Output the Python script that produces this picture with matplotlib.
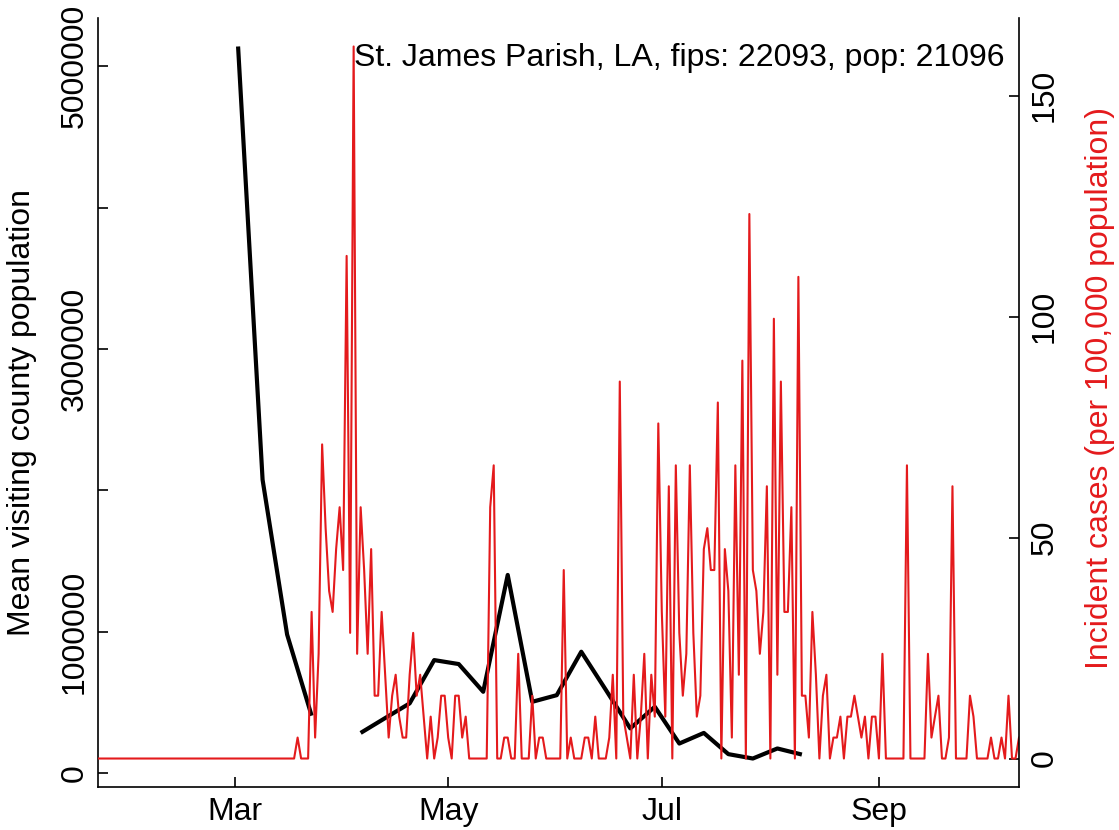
import numpy as np
import pandas as pd
import matplotlib
matplotlib.use("Agg")
import matplotlib.pyplot as plt
import matplotlib.dates as mdates

plt.rcParams['font.family'] = ['Liberation Sans', 'DejaVu Sans']

# county info
county = "St. James Parish, LA"
fips = 22093
pop = 21096

# daily new cases, starting 2020-01-22
case_start = "2020-01-22"
daily_cases = [0] * 57 + [
    1, 0, 0, 0, 7, 1, 5, 15, 11, 8,
    7, 10, 12, 9, 24, 6, 34, 5, 12, 9,
    5, 10, 3, 3, 7, 4, 1, 3, 4, 2,
    1, 1, 4, 6, 3, 4, 2, 0, 2, 0,
    1, 3, 3, 1, 0, 3, 3, 1, 2, 0,
    0, 0, 0, 0, 0, 12, 14, 0, 0, 1,
    1, 0, 0, 5, 0, 0, 0, 3, 0, 1,
    1, 0, 0, 0, 0, 0, 9, 0, 1, 0,
    0, 0, 1, 1, 0, 2, 0, 0, 0, 1,
    4, 0, 18, 2, 1, 0, 4, 0, 2, 5,
    0, 4, 2, 16, 7, 2, 13, 0, 14, 6,
    3, 5, 14, 6, 2, 3, 10, 11, 9, 9,
    17, 0, 10, 8, 1, 14, 4, 19, 0, 26,
    9, 8, 5, 7, 13, 0, 21, 4, 18, 7,
    7, 12, 0, 23, 3, 3, 1, 7, 4, 0,
    3, 4, 0, 1, 1, 2, 0, 2, 2, 3,
    2, 1, 2, 0, 2, 2, 0, 5, 0, 0,
    0, 0, 0, 0, 14, 0, 0, 0, 0, 0,
    5, 1, 2, 3, 0, 0, 1, 13, 0, 0,
    0, 0, 3, 2, 0, 0, 0, 0, 1, 0,
    0, 1, 0, 3, 0, 0, 1,
]

# weekly mean visiting county population, starting 2020-03-02
visit_start = "2020-03-02"
visitors = [
    5139000, 2075000, 981000, 407000, np.nan, 285000, 390000, 494000,
    800000, 772000, 576000, 1402000, 505000, 552000, 859000, 590000,
    317000, 470000, 210000, 285000, 135000, 104000, 175000, 132000,
]

left_ticks = [0, 1000000, 2000000, 3000000, 4000000, 5000000]
left_labels = ["0", "1000000", "", "3000000", "", "5000000"]
right_ticks = [0, 50, 100, 150]

case_dates = pd.date_range(case_start, periods=len(daily_cases), freq="D")
visit_dates = pd.date_range(visit_start, periods=len(visitors), freq="7D")
incid = np.array(daily_cases) / pop * 1e5
visitors = np.array(visitors, dtype=float)

red = "#e41a1c"
fs = 23

fig = plt.figure(figsize=(11.19, 8.30), dpi=100)
ax1 = fig.add_axes([98 / 1119, 43 / 830, 921 / 1119, 769 / 830])

ax1.plot(visit_dates, visitors, color="black", lw=3.0, solid_capstyle="butt")
lo, hi = np.nanmin(visitors), np.nanmax(visitors)
ax1.set_ylim(lo - 0.04 * (hi - lo), hi + 0.04 * (hi - lo))
ax1.set_xlim(case_dates[0], case_dates[-1])

ax2 = ax1.twinx()
ax2.plot(case_dates, incid, color=red, lw=1.5)
hi2 = incid.max()
ax2.set_ylim(-0.04 * hi2, hi2 * 1.04)

ax1.set_yticks(left_ticks)
ax1.set_yticklabels(left_labels, rotation=90, va="center", fontsize=fs)
ax2.set_yticks(right_ticks)
ax2.set_yticklabels([str(t) for t in right_ticks], rotation=90, va="center",
                    fontsize=fs)

ax1.xaxis.set_major_locator(mdates.MonthLocator(bymonth=[3, 5, 7, 9]))
ax1.xaxis.set_major_formatter(mdates.DateFormatter("%b"))
for t in ax1.get_xticklabels():
    t.set_fontsize(fs)

ax1.tick_params(direction="in", length=7, width=1.2, pad=6)
ax1.tick_params(axis="x", pad=7)
ax2.tick_params(direction="in", length=7, width=1.2, pad=8)

for s in ["top", "right"]:
    ax1.spines[s].set_visible(False)
for s in ["top", "left", "bottom"]:
    ax2.spines[s].set_visible(False)
for a in (ax1, ax2):
    for s in a.spines.values():
        s.set_linewidth(1.2)

fig.text(22 / 1119, 1 - 412 / 830, "Mean visiting county population",
         rotation=90, ha="center", va="center", fontsize=fs)
fig.text(1100 / 1119, 1 - 388 / 830, "Incident cases (per 100,000 population)",
         rotation=90, ha="center", va="center", fontsize=fs, color=red)
fig.text(1005 / 1119, 1 - 58 / 830,
         f"{county}, fips: {fips}, pop: {pop}",
         ha="right", va="center", fontsize=fs)

fig.savefig("out.png", dpi=100)
